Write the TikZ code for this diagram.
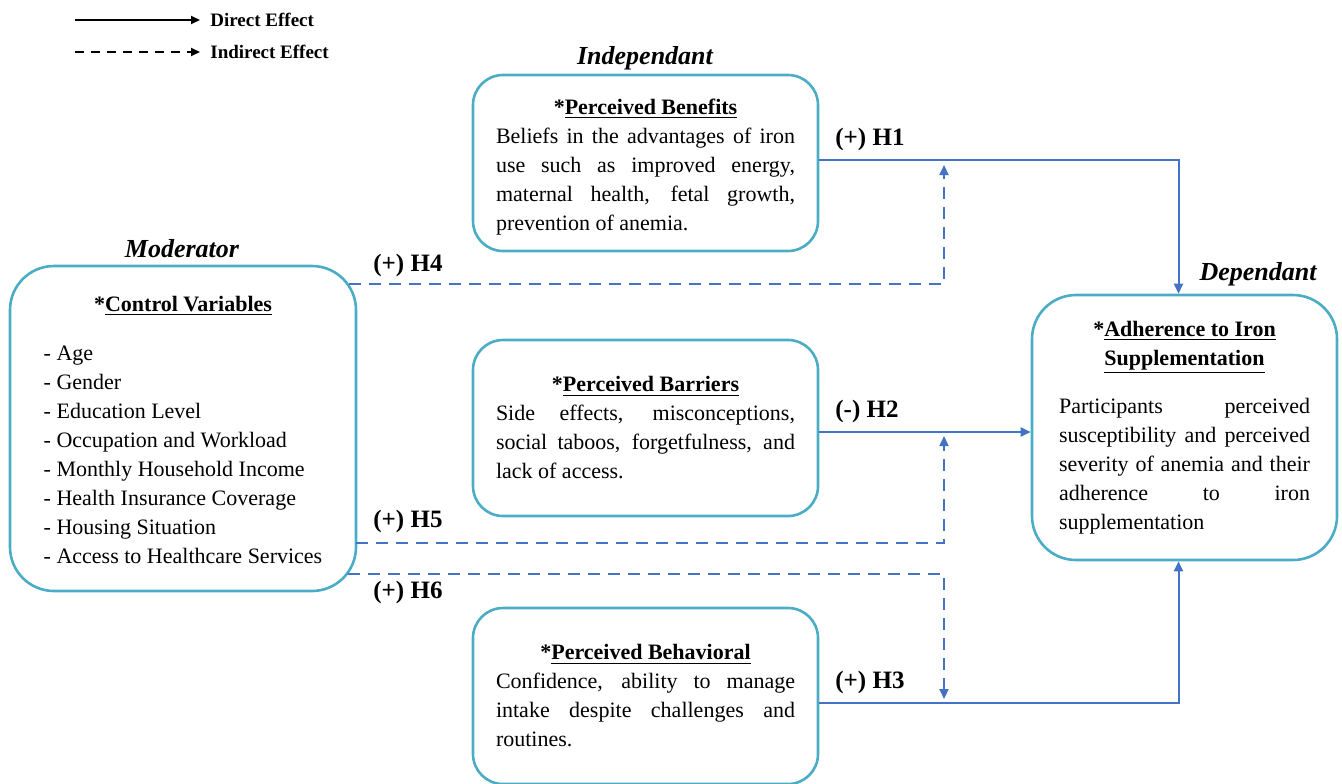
\documentclass[tikz,border=0pt]{standalone}
\usepackage{fontspec}
\setmainfont{Liberation Serif}
\usetikzlibrary{arrows.meta}
\definecolor{boxline}{RGB}{75,172,198}
\definecolor{linkblue}{RGB}{68,114,196}
\setlength{\parindent}{0pt}
\hyphenpenalty=10000
\tolerance=10000
\begin{document}
\begin{tikzpicture}[x=0.5pt,y=-0.5pt,
    every node/.style={font=\fontsize{11}{14.5}\selectfont},
    boxbase/.style={draw=boxline,line width=1.3pt,rounded corners=15pt,inner sep=0pt},
    varbox/.style={boxbase,minimum width=172.5pt,minimum height=88pt,text width=149.5pt,align=justify},
    catlabel/.style={font=\fontsize{13}{15}\selectfont\bfseries\itshape,inner sep=0pt},
    hyplabel/.style={font=\fontsize{12.5}{15}\selectfont\bfseries,anchor=west,inner sep=0pt},
    keylabel/.style={font=\fontsize{9.5}{11}\selectfont\bfseries,anchor=west,inner sep=0pt},
    direct/.style={draw=linkblue,line width=1pt,-{Triangle[length=5pt,width=4.5pt]}},
    indirect/.style={direct,dash pattern=on 6pt off 4pt},
    keyline/.style={line width=0.9pt,-{Triangle[length=4.5pt,width=4pt]}}]
\useasboundingbox (0,0) rectangle (1342,783);

% legend
\coordinate (k1) at (75,20);
\coordinate (k2) at (75,52);
\node[keylabel] (dir) at (210,20) {Direct Effect};
\node[keylabel] (ind) at (210,52) {Indirect Effect};
\draw[keyline] (k1) -- ([xshift=-5pt]dir.west);
\draw[keyline,dash pattern=on 4.5pt off 3.5pt] (k2) -- ([xshift=-5pt]ind.west);

% group titles
\node[catlabel] (indep) at (645,58) {Independant};
\node[catlabel] (moder) at (182,249) {Moderator};
\node[catlabel] (depen) at (1258,274) {Dependant};

% boxes
\node[varbox] (ben) at (645.5,163) {{\centering\rule{0pt}{12pt}\textbf{*\underline{Perceived Benefits}}\par}
    Beliefs in the advantages of iron use such as improved energy, maternal health, fetal growth, prevention of anemia.};
\node[varbox] (bar) at (645.5,428) {{\centering\textbf{*\underline{Perceived Barriers}}\par}
    Side effects, misconceptions, social taboos, forgetfulness, and lack of access.};
\node[varbox] (beh) at (645.5,696) {{\centering\textbf{*\underline{Perceived Behavioral}}\par}
    Confidence, ability to manage intake despite challenges and routines.};
\node[boxbase,rounded corners=22pt,minimum width=173pt,minimum height=162.5pt,align=center] (ctl) at (183,428.5)
    {\rule{0pt}{13pt}\textbf{*\underline{Control Variables}}\\[10pt]
    \begin{tabular}[t]{@{}l@{}}
    - Age\\
    - Gender\\
    - Education Level\\
    - Occupation and Workload\\
    - Monthly Household Income\\
    - Health Insurance Coverage\\
    - Housing Situation\\
    - Access to Healthcare Services
    \end{tabular}};
\node[boxbase,rounded corners=22pt,minimum width=152.5pt,minimum height=132.5pt,text width=125.5pt,align=justify] (adh) at (1184.5,427.5)
    {{\centering\textbf{*\underline{Adherence to Iron}}\par\textbf{\underline{Supplementation}}\par}\vspace{9.5pt}
    Participants perceived\linebreak susceptibility and perceived\linebreak severity of anemia and their\linebreak adherence to iron\linebreak supplementation};

% direct effects
\draw[direct] ([yshift=1.5pt]ben.east) -| ([xshift=-3pt]adh.north);
\draw[direct] ([yshift=-2pt]bar.east) -- ([yshift=-2.25pt]adh.west);
\draw[direct] ([yshift=-3.5pt]beh.east) -| ([xshift=-3pt]adh.south);
\node[hyplabel] (h1) at (835,139) {(+) H1};
\node[hyplabel] (h2) at (835,411) {(-) H2};
\node[hyplabel] (h3) at (835,682) {(+) H3};

% moderating effects
\coordinate (h4s) at (349,284);
\coordinate (h4e) at (944,165);
\coordinate (h5s) at (356,543);
\coordinate (h5e) at (944,436);
\coordinate (h6s) at (348,574);
\coordinate (h6e) at (944,699);
\draw[indirect] (h4s) -| (h4e);
\draw[indirect] (h5s) -| (h5e);
\draw[indirect] (h6s) -| (h6e);
\node[hyplabel] (h4) at (373,265) {(+) H4};
\node[hyplabel] (h5) at (373,521) {(+) H5};
\node[hyplabel] (h6) at (373,592) {(+) H6};
\end{tikzpicture}
\end{document}
